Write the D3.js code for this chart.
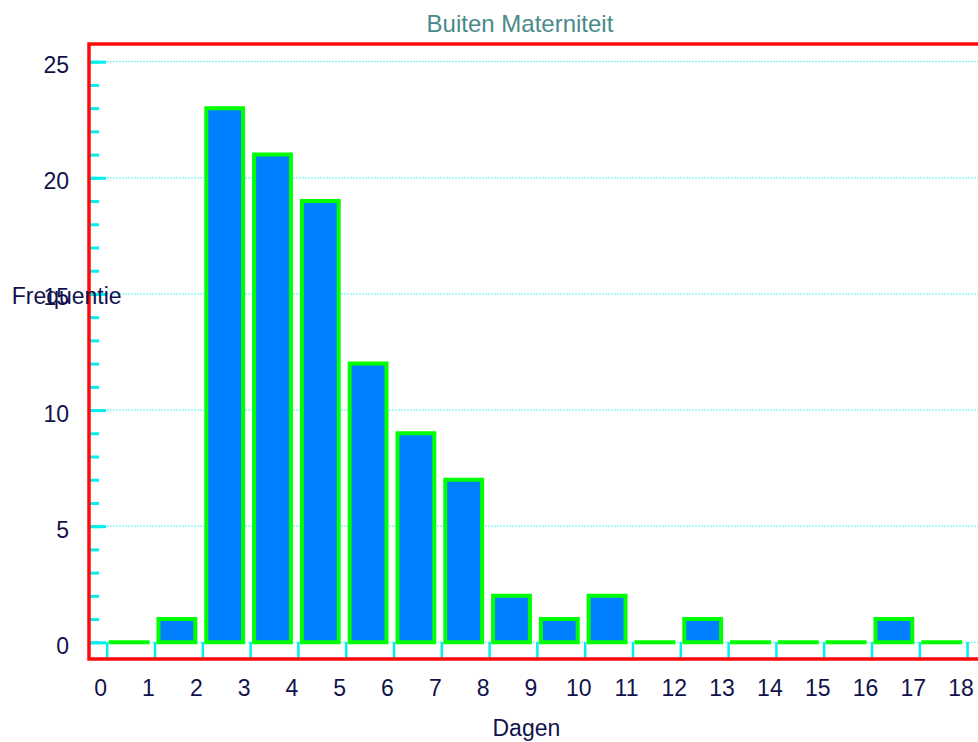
<!DOCTYPE html>
<html>
<head>
<meta charset="utf-8">
<script src="https://cdn.jsdelivr.net/npm/d3@7"></script>
<style>
  html, body { margin: 0; padding: 0; background: #fff; }
  svg { display: block; font-family: "Liberation Sans", Arial, sans-serif; }
</style>
</head>
<body>
<svg id="chart" width="978" height="742"></svg>
<script>
// Data
const binStarts = [0,1,2,3,4,5,6,7,8,9,10,11,12,13,14,15,16,17];
const frequencies = [0,1,23,21,19,12,9,7,2,1,2,0,1,0,0,0,1,0];
const xTickLabels = ["0","1","2","3","4","5","6","7","8","9","10","11","12","13","14","15","16","17","18"];
const yMajorTicks = [0,5,10,15,20,25];
const yMinorTicks = d3.range(0, 26);
const title = "Buiten Materniteit";
const xLabel = "Dagen";
const yLabel = "Frequentie";

const svg = d3.select("#chart");
const frameLeft = 89, frameTop = 44, frameBottom = 659;

const x = d3.scaleLinear().domain([0, 18]).range([106.7, 967.1]);
const y = d3.scaleLinear().domain([0, 25]).range([642.3, 61.7]);

const textColor = "#12124d";

// Gridlines
svg.append("g").selectAll("line").data(yMajorTicks).join("line")
  .attr("x1", frameLeft).attr("x2", 978)
  .attr("y1", d => y(d)).attr("y2", d => y(d))
  .attr("stroke", "#66f0f0").attr("stroke-width", 1)
  .attr("stroke-dasharray", "2,1");

// Minor y ticks
const yMinor = svg.append("g").attr("transform", `translate(${frameLeft},0)`)
  .call(d3.axisLeft(y).tickValues(yMinorTicks).tickSize(-10).tickFormat(""));
yMinor.select(".domain").remove();
yMinor.selectAll("line").attr("stroke", "#00f0f0").attr("stroke-width", 3);

// Major y ticks + labels
const yMajor = svg.append("g").attr("transform", `translate(${frameLeft},0)`)
  .call(d3.axisLeft(y).tickValues(yMajorTicks).tickSize(-17).tickFormat(d3.format("d")));
yMajor.select(".domain").remove();
yMajor.selectAll("line").attr("stroke", "#00f0f0").attr("stroke-width", 3);
yMajor.selectAll("text")
  .attr("x", -20).attr("dy", "11px")
  .attr("fill", textColor).style("font-size", "23px")
  .style("font-family", "'Liberation Sans', Arial, sans-serif");

// X ticks + labels
const xAxis = svg.append("g").attr("transform", `translate(0,${frameBottom})`)
  .call(d3.axisBottom(x).tickValues(d3.range(0, 19)).tickSize(-17)
    .tickFormat((d, i) => xTickLabels[i]));
xAxis.select(".domain").remove();
xAxis.selectAll("line").attr("stroke", "#00f0f0").attr("stroke-width", 2.5);
xAxis.selectAll("text")
  .attr("y", 37).attr("dy", 0).attr("dx", -6.5)
  .attr("fill", textColor).style("font-size", "23px")
  .style("font-family", "'Liberation Sans', Arial, sans-serif");

// Bars (paths so that zero-height bars still show their outline)
svg.append("g").selectAll("path").data(binStarts).join("path")
  .attr("d", (d, i) => {
    const x0 = x(d) + 4, x1 = x(d + 1) - 7;
    const y0 = y(0), y1 = Math.min(y(frequencies[i]), y(0) - 0.05);
    return `M${x0},${y0}H${x1}V${y1}H${x0}Z`;
  })
  .attr("fill", "#0080ff")
  .attr("stroke", "#00ff00").attr("stroke-width", 4)
  .attr("stroke-linejoin", "miter");

// Frame
const frame = svg.append("g").attr("stroke", "#ff0a0a").attr("stroke-width", 3.5).attr("fill", "none");
frame.append("path")
  .attr("d", `M990,${frameTop} L${frameLeft},${frameTop} L${frameLeft},${frameBottom} L990,${frameBottom}`);

// Titles
svg.append("text").attr("x", 520).attr("y", 31.7).attr("text-anchor", "middle")
  .attr("fill", "#4a8a8a").style("font-size", "24px").text(title);
svg.append("text").attr("x", 526.4).attr("y", 736).attr("text-anchor", "middle")
  .attr("fill", textColor).style("font-size", "23px").text(xLabel);
svg.append("text").attr("x", 11.7).attr("y", 303.5).attr("text-anchor", "start")
  .attr("fill", textColor).style("font-size", "23px").text(yLabel);
</script>
</body>
</html>
